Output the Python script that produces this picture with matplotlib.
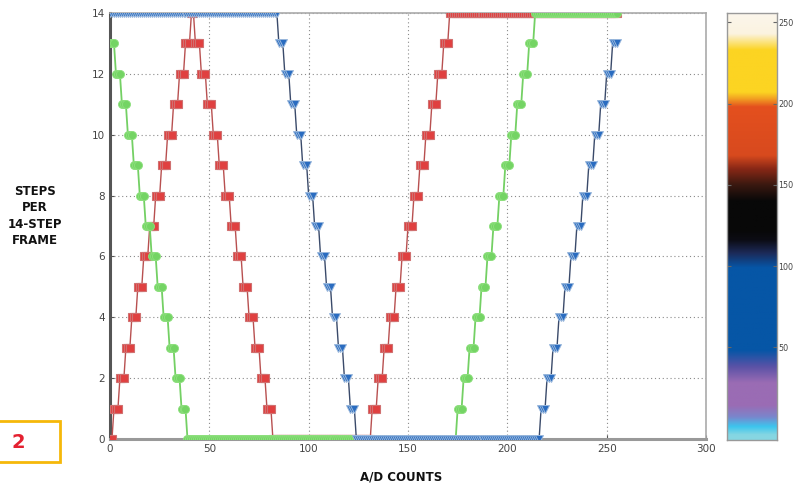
import numpy as np
import matplotlib
matplotlib.use("Agg")
import matplotlib.pyplot as plt
from matplotlib.colors import LinearSegmentedColormap
from matplotlib.patches import Rectangle

# ---- data: step level held for a run of consecutive A/D counts (0..255) ----
red_levels = [0, 1, 2, 3, 4, 5, 6, 7, 8, 9, 10, 11, 12, 13, 14,
              13, 12, 11, 10, 9, 8, 7, 6, 5, 4, 3, 2, 1, 0,
              1, 2, 3, 4, 5, 6, 7, 8, 9, 10, 11, 12, 13, 14]
red_runs = [2, 3, 3, 3, 3, 3, 3, 3, 3, 3, 3, 3, 3, 3, 2,
            3, 3, 3, 3, 3, 3, 3, 3, 3, 3, 3, 3, 3, 50,
            3, 3, 3, 3, 3, 3, 3, 3, 3, 3, 3, 3, 3, 85]

green_levels = [13, 12, 11, 10, 9, 8, 7, 6, 5, 4, 3, 2, 1, 0,
                1, 2, 3, 4, 5, 6, 7, 8, 9, 10, 11, 12, 13, 14]
green_runs = [3, 3, 3, 3, 3, 3, 3, 3, 3, 3, 3, 3, 3, 136,
              3, 3, 3, 3, 3, 3, 3, 3, 3, 3, 3, 3, 3, 42]

blue_levels = [14, 13, 12, 11, 10, 9, 8, 7, 6, 5, 4, 3, 2, 1, 0,
               1, 2, 3, 4, 5, 6, 7, 8, 9, 10, 11, 12, 13]
blue_runs = [85, 3, 3, 3, 3, 3, 3, 3, 3, 3, 3, 3, 3, 3, 93,
             3, 3, 3, 3, 3, 3, 3, 3, 3, 3, 3, 3, 3]

x_ticks = [0, 50, 100, 150, 200, 250, 300]
y_ticks = [0, 2, 4, 6, 8, 10, 12, 14]
cbar_ticks = [50, 100, 150, 200, 250]

# colormap stops (value, colour)
cmap_vals = [-7, -4, 1, 7, 14, 28, 38, 48, 99, 108, 116, 122, 140, 150, 160, 168,
             198, 203, 207, 233, 243, 255.5]
cmap_cols = ["#86d6e2", "#86d6e2", "#3cc6ee", "#7a86cc", "#9a6cb4", "#9a6cb4",
             "#5a52a6", "#0656a6", "#0656a6", "#1c2a58", "#0c0c14", "#080808",
             "#080808", "#3a1810", "#8a2816", "#d84a1e", "#e4501e", "#f2a022",
             "#fcd422", "#fcd422", "#fbf3e0", "#fbf6ec"]

red_y = np.repeat(red_levels, red_runs)
green_y = np.repeat(green_levels, green_runs)
blue_y = np.repeat(blue_levels, blue_runs)
xs = np.arange(len(red_y))

W, H = 793, 484
fig = plt.figure(figsize=(W / 100, H / 100), dpi=100)
ax = fig.add_axes([110 / W, (H - 439) / H, 596 / W, 426 / H])

ax.plot(xs, red_y, color="#b85050", lw=1.0, marker="s", ms=5.2,
        mfc="#e04040", mec="#d07070", mew=0.8, zorder=3)
ax.plot(xs, green_y, color="#74d064", lw=1.3, marker="o", ms=5.8,
        mfc="#74d464", mec="#8ee07e", mew=0.6, zorder=4)
ax.plot(xs, blue_y, color="#3a4a6a", lw=1.0, marker="v", ms=6.2,
        mfc="#2a6cc0", mec="#9ab8dc", mew=0.7, zorder=5)

ax.set_xlim(0, 300)
ax.set_ylim(0, 14)
ax.set_xticks(x_ticks)
ax.set_yticks(y_ticks)
ax.tick_params(direction="in", length=3, labelsize=7.5, colors="#555555",
               labelcolor="#444444")
ax.grid(True, color="#8a8a8a", lw=0.8, linestyle=(0, (1, 2.5)))
for side in ["top", "right"]:
    ax.spines[side].set_color("#aaaaaa")
    ax.spines[side].set_linewidth(1.2)
ax.spines["left"].set_color("#555555")
ax.spines["left"].set_linewidth(2.2)
ax.spines["bottom"].set_color("#999999")
ax.spines["bottom"].set_linewidth(2.2)

# colour bar
cmap = LinearSegmentedColormap.from_list(
    "ref", [((v - cmap_vals[0]) / (cmap_vals[-1] - cmap_vals[0]), c)
            for v, c in zip(cmap_vals, cmap_cols)], N=512)
cax = fig.add_axes([727 / W, (H - 440) / H, 50 / W, 426.7 / H])
grad = np.linspace(cmap_vals[0], cmap_vals[-1], 512).reshape(-1, 1)
cax.imshow(grad, aspect="auto", cmap=cmap, origin="lower",
           extent=[0, 1, cmap_vals[0], cmap_vals[-1]],
           vmin=cmap_vals[0], vmax=cmap_vals[-1])
cax.set_xlim(0, 1)
cax.set_ylim(cmap_vals[0], cmap_vals[-1])
cax.set_xticks([])
cax.set_yticks(cbar_ticks)
cax.yaxis.tick_right()
cax.tick_params(axis="y", direction="in", length=3, labelsize=5.8, pad=1,
                colors="#666666", labelcolor="#444444", left=True, right=True)
for s in cax.spines.values():
    s.set_color("#999999")
    s.set_linewidth(1.0)

# labels
fig.text(35 / W, 1 - 216 / H, "STEPS\nPER\n14-STEP\nFRAME", ha="center",
         va="center", fontsize=8.5, fontweight="bold", linespacing=1.35,
         color="#111111")
fig.text(401 / W, 1 - 477 / H, "A/D COUNTS", ha="center", va="center",
         fontsize=8.5, fontweight="bold", color="#111111")

fig.patches.append(Rectangle((-5 / W, 1 - 462 / H), 65 / W, 41 / H,
                             transform=fig.transFigure, fill=False,
                             edgecolor="#f5b80a", lw=2))
fig.text(18 / W, 1 - 442 / H, "2", ha="center", va="center", fontsize=14,
         fontweight="bold", color="#e42030")

fig.savefig("out.png", dpi=100)
